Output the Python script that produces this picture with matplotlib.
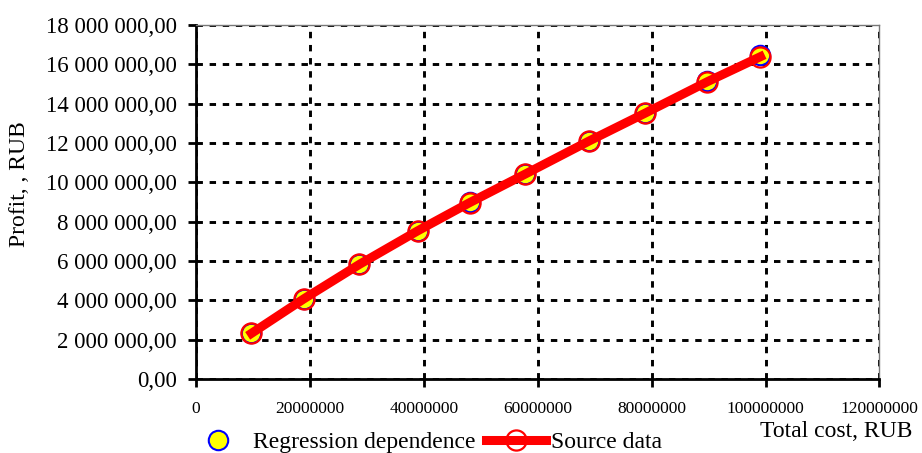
import numpy as np
import matplotlib
matplotlib.use('Agg')
import matplotlib.pyplot as plt
from matplotlib.ticker import FuncFormatter

plt.rcParams['font.family'] = ['Liberation Serif', 'DejaVu Serif']

# total cost, RUB
cost = [9.73e6, 18.9e6, 28.7e6, 38.9e6, 48.06e6, 57.8e6, 69.0e6, 78.8e6, 89.8e6, 99.1e6]
# profit, RUB
profit_src = [2.32e6, 4.07e6, 5.83e6, 7.53e6, 8.97e6, 10.42e6, 12.10e6, 13.51e6, 15.12e6, 16.39e6]
profit_reg = [2.33e6, 4.08e6, 5.83e6, 7.53e6, 8.98e6, 10.43e6, 12.10e6, 13.53e6, 15.17e6, 16.46e6]

xticks = [0, 20000000, 40000000, 60000000, 80000000, 100000000, 120000000]
yticks = np.arange(0, 18000001, 2000000)


def rub(v, pos):
    return '{:,.2f}'.format(v).replace(',', ' ').replace('.', ',')


fig = plt.figure(figsize=(9.22, 4.53), dpi=100)
ax = fig.add_axes([0.2126, 0.1634, 0.7413, 0.7814])

ax.plot(cost, profit_reg, linestyle='none', marker='o', markersize=14,
        markerfacecolor='yellow', markeredgecolor='blue', markeredgewidth=1.5,
        label='Regression dependence', zorder=3)
ax.plot(cost, profit_src, color='red', linewidth=6.5, marker='o', markersize=14.5,
        markerfacecolor='none', markeredgecolor='red', markeredgewidth=1.6,
        label='Source data', zorder=4)

ax.set_xlim(0, 120000000)
ax.set_ylim(0, 18000000)
ax.set_xticks(xticks)
ax.set_yticks(yticks)
ax.xaxis.set_major_formatter(FuncFormatter(lambda v, p: '%d' % v))
ax.yaxis.set_major_formatter(FuncFormatter(rub))
ax.grid(True, color='black', linestyle=(0, (2.2, 2.3)), linewidth=2.1, zorder=1)
ax.set_axisbelow(True)

for s in ['left', 'bottom']:
    ax.spines[s].set_linewidth(2)
for s in ['top', 'right']:
    ax.spines[s].set_linewidth(1)
    ax.spines[s].set_color('#777777')

ax.tick_params(axis='y', labelsize=16.5, width=2, length=6, pad=8)
ax.tick_params(axis='x', labelsize=12.5, width=2, length=6, pad=10)

ax.set_ylabel('Profit, , RUB', fontsize=17)
ax.yaxis.set_label_coords(-0.243, 0.55)
fig.text(0.99, 0.025, 'Total cost, RUB', fontsize=17, ha='right', va='bottom')

fig.legend(loc='lower left', bbox_to_anchor=(0.204, 0.0), ncol=2, frameon=False,
           fontsize=17, handlelength=2.55, columnspacing=0.42, handletextpad=0.22,
           borderpad=0, borderaxespad=0)

fig.savefig('out.png', dpi=100)
